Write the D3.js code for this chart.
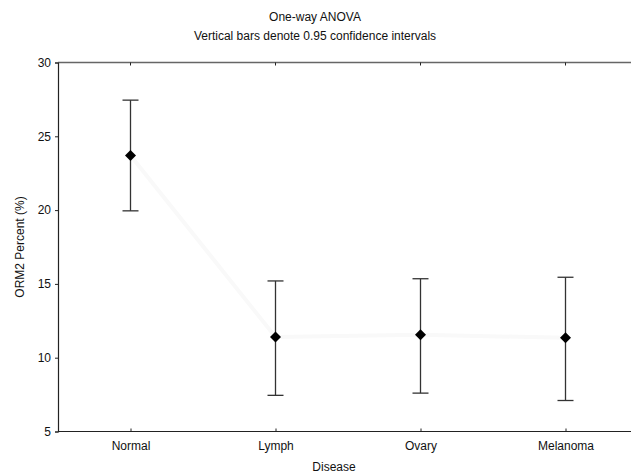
<!DOCTYPE html>
<html>
<head>
<meta charset="utf-8">
<script src="https://cdn.jsdelivr.net/npm/d3@7"></script>
<style>
  body { margin: 0; background: #fff; }
  text { font-family: "Liberation Sans", Arial, sans-serif; fill: #111; }
</style>
</head>
<body>
<script>
// data
var groepen = ["Normal", "Lymph", "Ovary", "Melanoma"];
var gemiddelde = [23.7, 11.4, 11.55, 11.35];
var onder = [19.95, 7.45, 7.6, 7.1];
var boven = [27.45, 15.2, 15.35, 15.45];
var yTicks = [5, 10, 15, 20, 25, 30];

var breedte = 631, hoogte = 474;
var marge = {boven: 62.5, beneden: 42.5, links: 58, rechts: 0};

var svg = d3.select("body").append("svg")
  .attr("width", breedte)
  .attr("height", hoogte);

// x loopt iets voorbij de rand, zoals in het origineel
var x = d3.scalePoint()
  .domain(groepen)
  .range([marge.links, marge.links + 580])
  .padding(0.5);

var y = d3.scaleLinear()
  .domain([5, 30])
  .range([hoogte - marge.beneden, marge.boven]);

// titels
svg.append("text")
  .attr("x", 315).attr("y", 21)
  .style("text-anchor", "middle").style("font-size", "12px")
  .text("One-way ANOVA");
svg.append("text")
  .attr("x", 315).attr("y", 40)
  .style("text-anchor", "middle").style("font-size", "12px")
  .text("Vertical bars denote 0.95 confidence intervals");

// bovenrand
svg.append("line")
  .attr("x1", marge.links).attr("x2", breedte)
  .attr("y1", y(30)).attr("y2", y(30))
  .attr("stroke", "#666").attr("stroke-width", 1.5);

// ticks op de bovenrand
svg.selectAll(".topTick")
  .data(groepen).enter().append("line")
  .attr("x1", function(d) { return x(d); })
  .attr("x2", function(d) { return x(d); })
  .attr("y1", y(30)).attr("y2", y(30) + 3)
  .attr("stroke", "#222");

// heel vage lijn tussen de gemiddelden
var lijn = d3.line()
  .x(function(d, i) { return x(groepen[i]); })
  .y(function(d) { return y(d); });
svg.append("path")
  .datum(gemiddelde)
  .attr("d", lijn)
  .attr("fill", "none")
  .attr("stroke", "#f9f9f9")
  .attr("stroke-width", 4);

// y-as
var asY = d3.axisLeft(y).tickValues(yTicks).tickSize(3).tickPadding(4);
svg.append("g")
  .attr("transform", "translate(" + marge.links + ",0)")
  .call(asY)
  .call(function(g) {
    g.select(".domain").attr("stroke", "#222").attr("stroke-width", 1.2);
    g.selectAll("line").attr("stroke", "#222");
    g.selectAll("text").style("font-size", "12px")
      .style("font-family", "Liberation Sans, Arial, sans-serif").attr("fill", "#111");
  });

// x-as
var asX = d3.axisBottom(x).tickSize(-3).tickPadding(10).tickSizeOuter(0);
svg.append("g")
  .attr("transform", "translate(0," + y(5) + ")")
  .call(asX)
  .call(function(g) {
    g.select(".domain").attr("stroke", "#222").attr("stroke-width", 1.2)
      .attr("d", "M" + marge.links + ",0H" + breedte);
    g.selectAll("line").attr("stroke", "#222");
    g.selectAll("text").style("font-size", "12px")
      .style("font-family", "Liberation Sans, Arial, sans-serif").attr("fill", "#111");
  });

// as-titels
svg.append("text")
  .attr("x", 334).attr("y", 471)
  .style("text-anchor", "middle").style("font-size", "12px")
  .text("Disease");
svg.append("text")
  .attr("transform", "rotate(-90)")
  .attr("x", -247).attr("y", 24)
  .style("text-anchor", "middle").style("font-size", "12px")
  .text("ORM2 Percent (%)");

// foutbalken
var balk = svg.selectAll(".balk")
  .data(groepen).enter().append("g");

balk.append("line")
  .attr("x1", function(d) { return x(d); })
  .attr("x2", function(d) { return x(d); })
  .attr("y1", function(d, i) { return y(onder[i]); })
  .attr("y2", function(d, i) { return y(boven[i]); })
  .attr("stroke", "#333").attr("stroke-width", 1.3);

balk.append("line")
  .attr("x1", function(d) { return x(d) - 8; })
  .attr("x2", function(d) { return x(d) + 8; })
  .attr("y1", function(d, i) { return y(boven[i]); })
  .attr("y2", function(d, i) { return y(boven[i]); })
  .attr("stroke", "#333").attr("stroke-width", 1.3);

balk.append("line")
  .attr("x1", function(d) { return x(d) - 8; })
  .attr("x2", function(d) { return x(d) + 8; })
  .attr("y1", function(d, i) { return y(onder[i]); })
  .attr("y2", function(d, i) { return y(onder[i]); })
  .attr("stroke", "#333").attr("stroke-width", 1.3);

// ruitjes voor de gemiddelden
balk.append("path")
  .attr("d", "M0,-5.5L5.5,0L0,5.5L-5.5,0Z")
  .attr("transform", function(d, i) {
    return "translate(" + x(d) + "," + y(gemiddelde[i]) + ")"; })
  .attr("fill", "#000");
</script>
</body>
</html>
